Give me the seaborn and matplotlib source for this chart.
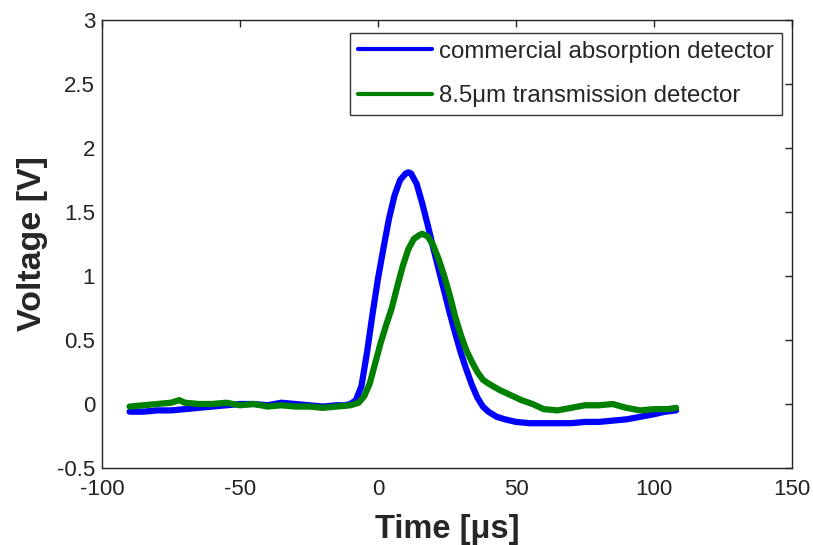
import numpy as np
import pandas as pd
import seaborn as sns
import matplotlib
matplotlib.use("Agg")
import matplotlib.pyplot as plt

# commercial absorption detector (blue)
t_abs = [-90, -85, -80, -75, -70, -65, -60, -55, -50, -45, -40, -35, -30, -25, -20,
         -15, -12, -10, -8, -6, -4, -2, 0, 2, 4, 6, 8, 10, 11, 12, 14, 16, 18, 20,
         22, 24, 26, 28, 30, 32, 34, 36, 38, 40, 43, 46, 50, 55, 60, 65, 70, 75,
         80, 85, 90, 95, 100, 104, 108]
v_abs = [-0.06, -0.06, -0.05, -0.05, -0.04, -0.03, -0.02, -0.01, 0.00, 0.00, -0.01,
         0.01, 0.00, -0.01, -0.02, -0.01, -0.01, 0.00, 0.03, 0.14, 0.40, 0.70, 0.98,
         1.22, 1.45, 1.63, 1.75, 1.80, 1.81, 1.80, 1.72, 1.57, 1.40, 1.22, 1.05,
         0.88, 0.71, 0.55, 0.40, 0.27, 0.15, 0.05, -0.02, -0.06, -0.10, -0.12,
         -0.14, -0.15, -0.15, -0.15, -0.15, -0.14, -0.14, -0.13, -0.12, -0.10,
         -0.08, -0.06, -0.05]

# 8.5um transmission detector (green)
t_tr = [-90, -85, -80, -75, -72, -70, -65, -60, -55, -50, -45, -40, -35, -30, -25,
        -20, -15, -10, -7, -5, -3, -1, 1, 3, 5, 7, 9, 11, 13, 15, 16, 18, 20, 22,
        24, 26, 28, 30, 32, 34, 36, 38, 40, 44, 48, 52, 56, 60, 65, 70, 75, 80,
        85, 90, 95, 100, 105, 108]
v_tr = [-0.02, -0.01, 0.00, 0.01, 0.03, 0.01, 0.00, 0.00, 0.01, -0.01, 0.00, -0.02,
        -0.01, -0.02, -0.02, -0.03, -0.02, -0.01, 0.01, 0.06, 0.16, 0.32, 0.48,
        0.62, 0.75, 0.92, 1.08, 1.21, 1.29, 1.32, 1.33, 1.31, 1.24, 1.13, 1.00,
        0.85, 0.68, 0.54, 0.42, 0.33, 0.25, 0.19, 0.16, 0.11, 0.07, 0.03, 0.00,
        -0.04, -0.05, -0.03, -0.01, -0.01, 0.00, -0.03, -0.05, -0.04, -0.04, -0.03]

labels = ["commercial absorption detector", "8.5\u03bcm transmission detector"]
colors = ["#0000ff", "#008000"]

sns.set_style("white")
plt.rcParams["font.family"] = ["Liberation Sans", "DejaVu Sans"]

fig = plt.figure(figsize=(8.13, 5.45), dpi=100)
ax = fig.add_axes([102 / 813, 1 - 468 / 545, 690 / 813, 448 / 545])

sns.lineplot(x=t_abs, y=v_abs, color=colors[0], lw=4.5, label=labels[0], ax=ax)
sns.lineplot(x=t_tr, y=v_tr, color=colors[1], lw=4.5, label=labels[1], ax=ax)

ax.set_xlim(-100, 150)
ax.set_ylim(-0.5, 3)
ax.set_xticks([-100, -50, 0, 50, 100, 150])
ax.set_yticks([-0.5, 0, 0.5, 1, 1.5, 2, 2.5, 3])
ax.set_yticklabels(["-0.5", "0", "0.5", "1", "1.5", "2", "2.5", "3"])
ax.set_xticklabels(["-100", "-50", "0", "50", "100", "150"])
ax.tick_params(direction="in", top=True, right=True, length=5, width=1,
               labelsize=16, colors="#222222", pad=5)
ax.tick_params(axis="x", pad=8)
for s in ax.spines.values():
    s.set_color("#222222")
    s.set_linewidth(1)

ax.set_xlabel("Time [\u03bcs]", fontsize=23.5, fontweight="bold", labelpad=10)
ax.set_ylabel("Voltage [V]", fontsize=24.5, fontweight="bold", labelpad=6)

leg = ax.legend(loc="upper right", bbox_to_anchor=(0.9855, 0.971), borderaxespad=0,
                fontsize=17.3, frameon=True, fancybox=False, edgecolor="black",
                handlelength=3.1, handletextpad=0.3, labelspacing=0.94,
                borderpad=0.32)
leg.get_frame().set_linewidth(1)
for ln in leg.get_lines():
    ln.set_linewidth(3)

fig.savefig("out.png", dpi=100)
